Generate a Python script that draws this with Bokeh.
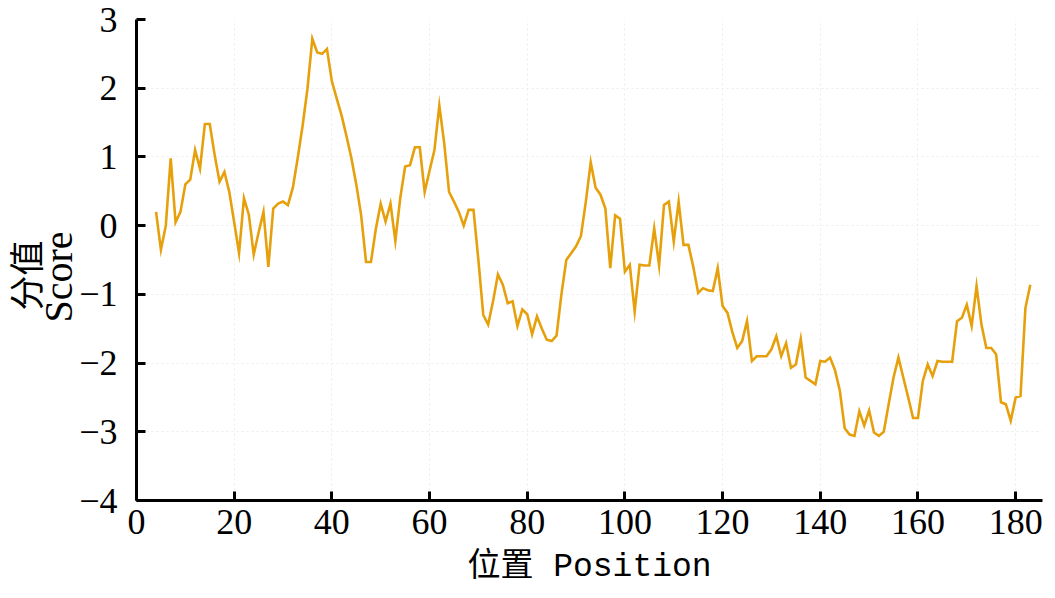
from bokeh.plotting import figure
from bokeh.models import Range1d, FixedTicker, Title
from bokeh.embed import file_html
from bokeh.resources import INLINE

# ---- data ----
positions = list(range(4, 184))
scores = [
    0.20, -0.35, 0.00, 0.98, 0.05, 0.20, 0.60, 0.67, 1.10, 0.83,   # 4-13
    1.48, 1.48, 1.03, 0.64, 0.78, 0.49, 0.05, -0.40, 0.40, 0.16,   # 14-23
    -0.42, -0.10, 0.20, -0.60, 0.25, 0.32, 0.35, 0.30, 0.55, 0.98,  # 24-33
    1.45, 1.99, 2.72, 2.52, 2.50, 2.57, 2.10, 1.85, 1.60, 1.30,     # 34-43
    0.98, 0.60, 0.15, -0.53, -0.53, -0.05, 0.32, 0.06, 0.32, -0.22, # 44-53
    0.40, 0.86, 0.88, 1.14, 1.14, 0.49, 0.80, 1.10, 1.75, 1.20,     # 54-63
    0.49, 0.35, 0.20, 0.00, 0.23, 0.23, -0.50, -1.30, -1.44, -1.10, # 64-73
    -0.71, -0.86, -1.13, -1.10, -1.46, -1.22, -1.29, -1.58, -1.32, -1.50,  # 74-83
    -1.66, -1.68, -1.60, -1.00, -0.50, -0.40, -0.30, -0.15, 0.35, 0.92,    # 84-93
    0.55, 0.45, 0.25, -0.62, 0.15, 0.10, -0.67, -0.57, -1.25, -0.57,       # 94-103
    -0.58, -0.58, -0.04, -0.58, 0.30, 0.35, -0.23, 0.35, -0.28, -0.28,     # 104-113
    -0.60, -0.98, -0.91, -0.94, -0.95, -0.62, -1.17, -1.27, -1.55, -1.78,  # 114-123
    -1.68, -1.39, -1.97, -1.90, -1.90, -1.90, -1.80, -1.61, -1.90, -1.71,  # 124-133
    -2.07, -2.02, -1.65, -2.21, -2.26, -2.31, -1.97, -1.98, -1.92, -2.10,  # 134-143
    -2.40, -2.95, -3.04, -3.06, -2.70, -2.91, -2.69, -3.01, -3.06, -3.00,  # 144-153
    -2.60, -2.21, -1.92, -2.21, -2.50, -2.80, -2.80, -2.26, -2.02, -2.19,  # 154-163
    -1.97, -1.98, -1.98, -1.98, -1.39, -1.34, -1.15, -1.46, -0.88, -1.44,  # 164-173
    -1.78, -1.78, -1.87, -2.57, -2.60, -2.84, -2.50, -2.48, -1.20, -0.86,  # 174-183
]
x_ticks = [0, 20, 40, 60, 80, 100, 120, 140, 160, 180]
y_ticks = [-4, -3, -2, -1, 0, 1, 2, 3]
y_tick_labels = ["\u22124", "\u22123", "\u22122", "\u22121", "0", "1", "2", "3"]
x_title = "位置 Position"
y_title_cn = "分值"
y_title_en = "Score"

# ---- figure ----
p = figure(width=1043, height=598, output_backend="svg", toolbar_location=None,
           x_range=Range1d(0, 185.5), y_range=Range1d(-4, 3),
           min_border_left=136, min_border_right=1, min_border_top=19, min_border_bottom=98)
p.outline_line_color = None
p.background_fill_color = "white"
p.border_fill_color = "white"

p.line(positions, scores, line_color="#E6A00C", line_width=2.6, line_join="miter")

for ax in (p.xaxis[0], p.yaxis[0]):
    ax.axis_line_width = 3
    ax.axis_line_color = "black"
    ax.major_tick_line_width = 3
    ax.major_tick_line_color = "black"
    ax.major_tick_in = 9
    ax.major_tick_out = 0
    ax.minor_tick_line_color = None
    ax.major_label_text_font = "Liberation Serif"
    ax.major_label_text_font_size = "36px"
    ax.major_label_text_color = "black"
    ax.axis_label_text_font_style = "normal"
    ax.axis_label_text_color = "black"

p.xaxis.ticker = FixedTicker(ticks=x_ticks)
p.yaxis.ticker = FixedTicker(ticks=y_ticks)
p.yaxis.major_label_overrides = {t: l for t, l in zip(y_ticks, y_tick_labels)}
p.xaxis.major_label_standoff = 9
p.yaxis.major_label_standoff = 19

p.xaxis.axis_label = x_title
p.xaxis.axis_label_text_font = "'Liberation Mono', 'Noto Sans CJK SC'"
p.xaxis.axis_label_text_font_size = "33px"
p.xaxis.axis_label_standoff = 12

t_en = Title(text=y_title_en, align="left", text_font="Liberation Serif",
             text_font_size="40px", text_font_style="normal", text_color="black",
             standoff=-9, offset=178)
t_cn = Title(text=y_title_cn, align="left", text_font="Noto Sans CJK SC",
             text_font_size="35px", text_font_style="normal", text_color="black",
             standoff=-22, offset=190)
p.add_layout(t_en, "left")
p.add_layout(t_cn, "left")

p.xgrid.ticker = FixedTicker(ticks=x_ticks)
p.ygrid.ticker = FixedTicker(ticks=y_ticks)
p.grid.grid_line_color = "#ececec"
p.grid.grid_line_dash = "2 3"
p.grid.grid_line_width = 1

open("out.html", "w").write(file_html(p, INLINE))
